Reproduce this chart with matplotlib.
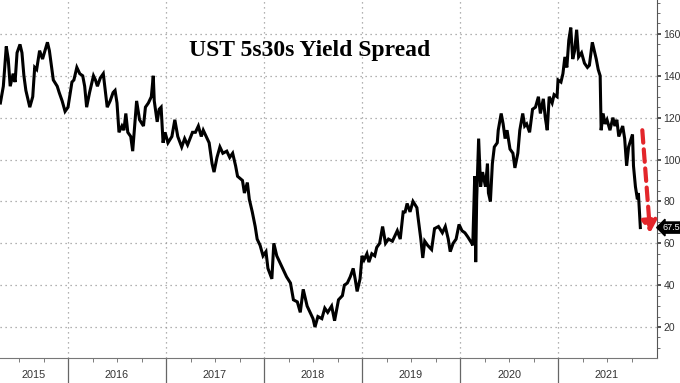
import matplotlib.pyplot as plt
from matplotlib.ticker import MultipleLocator, FixedLocator
import matplotlib.transforms as mtransforms

plt.rcParams['font.family'] = ['Liberation Sans', 'DejaVu Sans']

# time as decimal year, spread in bp
t = [2015.31, 2015.34, 2015.37, 2015.39, 2015.41, 2015.44, 2015.46, 2015.48, 2015.51, 2015.53,
     2015.55, 2015.57, 2015.61, 2015.64, 2015.66, 2015.68, 2015.71, 2015.74, 2015.79, 2015.81,
     2015.85, 2015.89, 2015.91, 2015.94, 2015.97, 2016.00, 2016.04, 2016.06, 2016.09, 2016.12,
     2016.15, 2016.17, 2016.19, 2016.22, 2016.26, 2016.28, 2016.30, 2016.33, 2016.36, 2016.38,
     2016.40, 2016.43, 2016.46, 2016.48, 2016.50, 2016.52, 2016.55, 2016.57, 2016.59, 2016.61,
     2016.64, 2016.66, 2016.68, 2016.70, 2016.73, 2016.77, 2016.79, 2016.82, 2016.85, 2016.87,
     2016.88, 2016.91, 2016.93, 2016.95, 2016.97, 2016.99, 2017.02, 2017.06, 2017.09, 2017.12,
     2017.16, 2017.19, 2017.22, 2017.27, 2017.30, 2017.33, 2017.36, 2017.38, 2017.42, 2017.44,
     2017.47, 2017.49, 2017.52, 2017.55, 2017.58, 2017.62, 2017.65, 2017.68, 2017.71, 2017.73,
     2017.78, 2017.80, 2017.83, 2017.85, 2017.88, 2017.91, 2017.93, 2017.96, 2017.99, 2018.02,
     2018.04, 2018.08, 2018.10, 2018.13, 2018.16, 2018.19, 2018.23, 2018.27, 2018.30, 2018.34,
     2018.37, 2018.40, 2018.44, 2018.47, 2018.50, 2018.52, 2018.55, 2018.59, 2018.62, 2018.65,
     2018.69, 2018.72, 2018.76, 2018.80, 2018.82, 2018.85, 2018.88, 2018.91, 2018.93, 2018.95,
     2018.98, 2019.00, 2019.02, 2019.05, 2019.07, 2019.10, 2019.13, 2019.15, 2019.18, 2019.21,
     2019.24, 2019.27, 2019.31, 2019.34, 2019.36, 2019.39, 2019.42, 2019.44, 2019.46, 2019.49,
     2019.52, 2019.56, 2019.57, 2019.60, 2019.62, 2019.64, 2019.67, 2019.71, 2019.74, 2019.78,
     2019.82, 2019.85, 2019.88, 2019.90, 2019.93, 2019.96, 2019.99, 2020.02, 2020.05, 2020.08,
     2020.12, 2020.13, 2020.14, 2020.15, 2020.16, 2020.17, 2020.19, 2020.21, 2020.23, 2020.26,
     2020.28, 2020.29, 2020.31, 2020.33, 2020.35, 2020.38, 2020.39, 2020.42, 2020.44, 2020.46,
     2020.48, 2020.51, 2020.54, 2020.56, 2020.59, 2020.61, 2020.64, 2020.66, 2020.68, 2020.71,
     2020.74, 2020.77, 2020.80, 2020.82, 2020.85, 2020.87, 2020.89, 2020.91, 2020.94, 2020.96,
     2020.99, 2021.00, 2021.03, 2021.05, 2021.07, 2021.09, 2021.11, 2021.13, 2021.15, 2021.17,
     2021.19, 2021.21, 2021.24, 2021.27, 2021.30, 2021.32, 2021.35, 2021.37, 2021.39, 2021.41,
     2021.43, 2021.44, 2021.46, 2021.48, 2021.50, 2021.53, 2021.56, 2021.58, 2021.60, 2021.62,
     2021.66, 2021.68, 2021.70, 2021.72, 2021.76, 2021.77, 2021.79, 2021.81, 2021.82, 2021.84]
spread = [127, 135, 154, 148, 135, 141, 137, 151, 155, 151,
          140, 133, 125, 130, 144, 143, 152, 148, 156, 152,
          138, 135, 132, 128, 123, 125, 137, 138, 144, 141,
          140, 135, 125, 132, 140, 138, 135, 139, 141, 133,
          125, 128, 132, 133, 127, 113, 116, 114, 122, 113,
          111, 104, 116, 128, 119, 116, 125, 127, 130, 140,
          128, 118, 124, 125, 108, 113, 108, 111, 119, 111,
          106, 110, 107, 113, 113, 116, 111, 114, 110, 108,
          98, 94, 101, 106, 103, 104, 101, 103, 97, 92,
          90, 84, 89, 81, 75, 68, 62, 59, 54, 56,
          48, 43, 60, 54, 51, 48, 44, 41, 33, 32,
          27, 38, 30, 27, 24, 20, 25, 24, 29, 27,
          30, 23, 33, 35, 40, 41, 44, 48, 43, 37,
          43, 54, 52, 55, 51, 55, 54, 58, 60, 68,
          60, 62, 61, 64, 66, 62, 75, 75, 79, 75,
          80, 77, 73, 62, 53, 61, 59, 57, 67, 68,
          65, 68, 62, 56, 60, 62, 69, 66, 65, 63,
          60, 59, 76, 92, 51, 81, 110, 87, 94, 87,
          98, 84, 80, 98, 106, 108, 114, 122, 117, 110,
          114, 105, 103, 96, 103, 114, 122, 116, 117, 113,
          124, 125, 130, 122, 129, 120, 114, 130, 127, 131,
          130, 138, 137, 141, 149, 144, 157, 163, 148, 152,
          162, 149, 151, 146, 144, 145, 156, 152, 148, 143,
          140, 114, 122, 117, 119, 114, 120, 116, 119, 111,
          116, 110, 97, 106, 112, 97, 87, 81, 84, 67.5]

years = [2015, 2016, 2017, 2018, 2019, 2020, 2021]
year_starts = [2016, 2017, 2018, 2019, 2020, 2021]
y_ticks = [20, 40, 60, 80, 100, 120, 140, 160]
last_value = 67.5
arrow_from = (2021.86, 114)
arrow_to = (2021.94, 65)

fig = plt.figure(figsize=(6.8, 3.83), dpi=100)
ax = fig.add_axes([0, 25 / 383, 657 / 680, 358 / 383])

ax.plot(t, spread, color='black', lw=2.2, solid_joinstyle='miter')

ax.set_xlim(2015.306, 2022.01)
ax.set_ylim(5.2, 176.2)

# right axis
ax.yaxis.tick_right()
ax.set_yticks(y_ticks)
ax.yaxis.set_minor_locator(MultipleLocator(5))
ax.tick_params(axis='y', which='major', direction='out', length=3, width=1.2,
               colors='#333333', labelsize=7.5, pad=1.5)
ax.tick_params(axis='y', which='minor', direction='out', length=2, color='#555555')

# bottom axis: long separators at year starts, quarterly minor ticks
ax.xaxis.set_major_locator(FixedLocator(year_starts))
ax.xaxis.set_minor_locator(FixedLocator([y + q for y in range(2015, 2022) for q in (0.25, 0.5, 0.75)]))
ax.tick_params(axis='x', which='major', direction='out', length=18, width=0.9,
               color='#666666', labelbottom=False)
ax.tick_params(axis='x', which='minor', direction='out', length=3, color='#666666')

trans = mtransforms.blended_transform_factory(ax.transData, ax.transAxes)
xlo, xhi = ax.get_xlim()
for y in years:
    c = (max(y, xlo) + min(y + 1, xhi)) / 2
    ax.text(c, -0.048, str(y), transform=trans, ha='center', va='center',
            fontsize=7.8, color='#333333')

for s in ('top', 'left'):
    ax.spines[s].set_visible(False)
ax.spines['right'].set_color('#555555')
ax.spines['bottom'].set_color('#777777')

ax.grid(True, which='major', color='#999999', linestyle=(0, (1, 3)), lw=0.9)

ax.text(0.472, 0.86, 'UST 5s30s Yield Spread', transform=ax.transAxes, ha='center',
        va='center', fontsize=17, fontweight='bold', family='Liberation Serif')

ax.annotate('', xy=arrow_to, xytext=arrow_from,
            arrowprops=dict(arrowstyle='-|>,head_length=0.7,head_width=0.45',
                            color='#e3262b', lw=3, linestyle=(0, (3, 1.6)),
                            shrinkA=0, shrinkB=0))

ax.annotate(f'{last_value}', xy=(1, last_value), xycoords=('axes fraction', 'data'),
            xytext=(4, 0), textcoords='offset points', ha='left', va='center',
            fontsize=6.5, color='white', annotation_clip=False,
            bbox=dict(boxstyle='larrow,pad=0.12', fc='black', ec='black'))

fig.savefig('out.png', dpi=100)
